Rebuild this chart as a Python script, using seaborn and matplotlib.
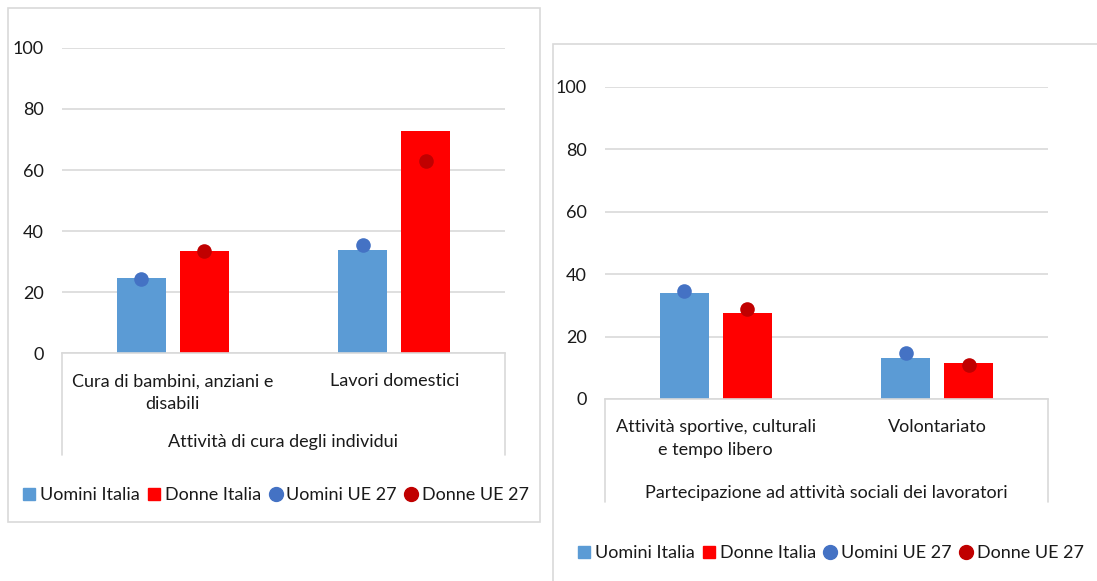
import numpy as np
import pandas as pd
import matplotlib
matplotlib.use("Agg")
import matplotlib.pyplot as plt
from matplotlib.lines import Line2D
from matplotlib.patches import Rectangle
import seaborn as sns

sns.set_style("white")
plt.rcParams['font.family'] = ['Lato', 'DejaVu Sans']

# dati
categorie_cura = ["Cura di bambini, anziani e\ndisabili", "Lavori domestici"]
uomini_italia_cura = [24.6, 33.8]
donne_italia_cura = [33.4, 72.8]
uomini_ue_cura = [24.3, 35.5]
donne_ue_cura = [33.3, 62.8]

categorie_soc = ["Attività sportive, culturali\ne tempo libero", "Volontariato"]
uomini_italia_soc = [33.9, 13.1]
donne_italia_soc = [27.5, 11.5]
uomini_ue_soc = [34.6, 14.8]
donne_ue_soc = [28.8, 10.9]

serie_barre = ["Uomini Italia", "Donne Italia"]
serie_punti = ["Uomini UE 27", "Donne UE 27"]
gruppo_cura = "Attività di cura degli individui"
gruppo_soc = "Partecipazione ad attività sociali dei lavoratori"

BLU = "#5B9BD5"
ROSSO = "#FF0000"
BLU_SCURO = "#4472C4"
ROSSO_SCURO = "#C00000"
GRIGIO = "#D9D9D9"
TESTO = "#1a1a1a"
FS = 13


def long_df(cats, a, b, nomi):
    return pd.DataFrame({
        "categoria": cats * 2,
        "valore": a + b,
        "serie": [nomi[0]] * len(cats) + [nomi[1]] * len(cats),
    })


def pannello(ax, cats, it_u, it_d, ue_u, ue_d, gruppo, y_gruppo, y_linea):
    barre = long_df(cats, it_u, it_d, serie_barre)
    punti = long_df(cats, ue_u, ue_d, serie_punti)
    sns.barplot(data=barre, x="categoria", y="valore", hue="serie", order=cats,
                hue_order=serie_barre, palette=[BLU, ROSSO], width=0.57, gap=0.22,
                saturation=1, linewidth=0, errorbar=None, legend=False, ax=ax)
    sns.pointplot(data=punti, x="categoria", y="valore", hue="serie", order=cats,
                  hue_order=serie_punti, palette=[BLU_SCURO, ROSSO_SCURO], dodge=0.285,
                  linestyle="none", markers="o", markersize=10.5, markeredgewidth=0,
                  errorbar=None, legend=False, ax=ax)
    ax.set_xlim(-0.5, len(cats) - 0.5)
    ax.set_ylim(0, 100)
    ax.set_yticks(range(0, 101, 20))
    ax.yaxis.grid(True, color=GRIGIO, lw=1.2)
    ax.set_axisbelow(True)
    for s in ["left", "top", "right"]:
        ax.spines[s].set_visible(False)
    ax.spines["bottom"].set_color(GRIGIO)
    ax.spines["bottom"].set_linewidth(1.2)
    ax.tick_params(axis="y", length=0, pad=13, labelsize=FS, labelcolor=TESTO)
    ax.tick_params(axis="x", length=0, pad=14.5, labelsize=FS, labelcolor=TESTO)
    for t in ax.get_xticklabels():
        t.set_linespacing(1.5)
    ax.set_xlabel("")
    ax.set_ylabel("")
    ax.axvline(-0.5, ymin=y_linea, ymax=0, color=GRIGIO, lw=1.2, clip_on=False)
    ax.axvline(len(cats) - 0.5, ymin=y_linea, ymax=0, color=GRIGIO, lw=1.2, clip_on=False)
    ax.text(0.5, y_gruppo, gruppo, transform=ax.transAxes, ha="center", va="center",
            fontsize=FS, color=TESTO)


fig = plt.figure(figsize=(10.97, 5.81), dpi=100)

# riquadri dei due grafici
fig.add_artist(Rectangle((0.0073, 0.1015), 0.485, 0.8847, transform=fig.transFigure,
                         fill=False, edgecolor=GRIGIO, lw=1.2))
fig.add_artist(Rectangle((0.504, -0.02), 0.51, 0.9443, transform=fig.transFigure,
                         fill=False, edgecolor=GRIGIO, lw=1.2))

ax1 = fig.add_axes([0.0565, 0.3924, 0.4038, 0.525])
ax2 = fig.add_axes([0.5515, 0.3133, 0.4038, 0.537])

pannello(ax1, categorie_cura, uomini_italia_cura, donne_italia_cura,
         uomini_ue_cura, donne_ue_cura, gruppo_cura, -0.292, -0.334)
pannello(ax2, categorie_soc, uomini_italia_soc, donne_italia_soc,
         uomini_ue_soc, donne_ue_soc, gruppo_soc, -0.3, -0.33)

handles = [
    Line2D([], [], marker="s", linestyle="none", color=BLU, markersize=8),
    Line2D([], [], marker="s", linestyle="none", color=ROSSO, markersize=8),
    Line2D([], [], marker="o", linestyle="none", color=BLU_SCURO, markersize=10),
    Line2D([], [], marker="o", linestyle="none", color=ROSSO_SCURO, markersize=10),
]
labels = serie_barre + serie_punti
for pos in [(0.2516, 0.148), (0.7575, 0.048)]:
    fig.legend(handles, labels, loc="center", bbox_to_anchor=pos, ncol=4, frameon=False,
               fontsize=FS, handlelength=0.7, handletextpad=0.25, columnspacing=0.45,
               labelcolor=TESTO)

fig.savefig("out.png", dpi=100)
